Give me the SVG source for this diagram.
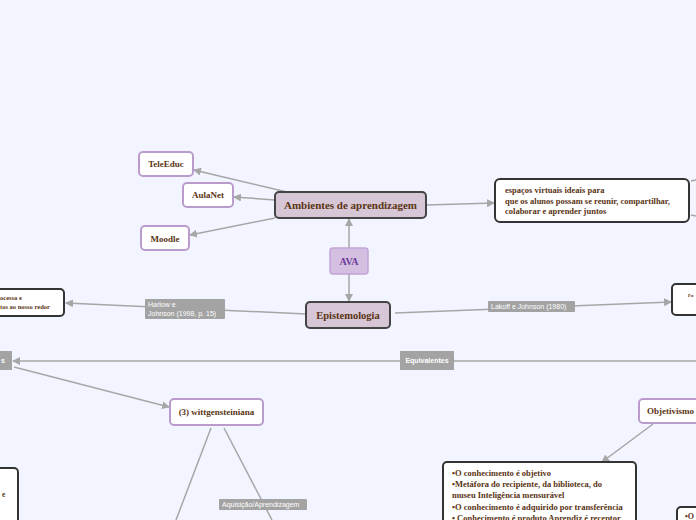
<svg xmlns="http://www.w3.org/2000/svg" width="696" height="520" viewBox="0 0 696 520">
<defs>
<marker id="ah" markerWidth="8" markerHeight="8" refX="7" refY="4" orient="auto" markerUnits="userSpaceOnUse">
<path d="M0,0 L8,4 L0,8 z" fill="#a6a6a6"/>
</marker>
<style>
.bg{fill:#f2f5ff}
.ln{stroke:#a6a6a6;stroke-width:1.5;fill:none}
.sub{fill:#ffffff;stroke:#b99ccc;stroke-width:2}
.main{fill:#d6c6d6;stroke:#444;stroke-width:2}
.note{fill:#ffffff;stroke:#333;stroke-width:2}
.t{font-family:"Liberation Serif",serif;font-weight:bold;fill:#5a3414}
.lab{fill:#a3a3a3}
.lt{font-family:"Liberation Sans",Arial,sans-serif;fill:#ffffff;font-size:7px}
</style>
</defs>
<rect class="bg" x="0" y="0" width="696" height="520"/>
<g id="connectors">
<line class="ln" x1="287" y1="192" x2="194" y2="170" marker-end="url(#ah)"/>
<line class="ln" x1="275" y1="200" x2="234" y2="197" marker-end="url(#ah)"/>
<line class="ln" x1="275" y1="218" x2="190" y2="235" marker-end="url(#ah)"/>
<line class="ln" x1="349" y1="248" x2="349" y2="219" marker-end="url(#ah)"/>
<line class="ln" x1="349" y1="274" x2="349" y2="301" marker-end="url(#ah)"/>
<line class="ln" x1="427" y1="205" x2="494" y2="203" marker-end="url(#ah)"/>
<line class="ln" x1="691" y1="181" x2="696" y2="180"/>
<line class="ln" x1="691" y1="215" x2="696" y2="216"/>
<line class="ln" x1="306" y1="314" x2="66" y2="303" marker-end="url(#ah)"/>
<line class="ln" x1="395" y1="313" x2="671" y2="302" marker-end="url(#ah)"/>
<line class="ln" x1="696" y1="361" x2="13" y2="361" marker-end="url(#ah)"/>
<line class="ln" x1="14" y1="367" x2="169" y2="407" marker-end="url(#ah)"/>
<line class="ln" x1="211" y1="428" x2="176" y2="520"/>
<line class="ln" x1="224" y1="428" x2="272" y2="520"/>
<line class="ln" x1="653" y1="424" x2="602" y2="462" marker-end="url(#ah)"/>
<rect class="lab" x="145" y="299" width="80" height="20" rx="1"/>
<text class="lt" x="148" y="307">Harlow e</text>
<text class="lt" x="148" y="316">Johnson (1998, p. 15)</text>
<rect class="lab" x="488" y="301" width="87" height="11" rx="1"/>
<text class="lt" x="491" y="309">Lakoff e Johnson (1980)</text>
<rect class="lab" x="0" y="351" width="12" height="19"/>
<text class="lt" x="1" y="363" font-size="6" font-weight="bold">s</text>
<rect class="lab" x="400" y="351" width="54" height="19"/>
<text class="lt" x="427" y="363" font-size="6" font-weight="bold" text-anchor="middle">Equivalentes</text>
<rect class="lab" x="219" y="499" width="88" height="11" rx="1"/>
<text class="lt" x="222" y="507">Aquisição/Aprendizagem</text>
</g>
<g id="teleeduc">
<rect class="sub" x="139" y="152" width="54" height="24" rx="4"/>
<text class="t" x="166" y="167" font-size="9" text-anchor="middle">TeleEduc</text>
</g>
<g id="aulanet">
<rect class="sub" x="183" y="183" width="50" height="24" rx="4"/>
<text class="t" x="208" y="198" font-size="9" text-anchor="middle">AulaNet</text>
</g>
<g id="moodle">
<rect class="sub" x="141" y="226" width="48" height="24" rx="4"/>
<text class="t" x="165" y="242" font-size="9" text-anchor="middle">Moodle</text>
</g>
<g id="ambientes">
<rect class="main" x="275" y="192" width="151" height="26" rx="4"/>
<text class="t" x="350.5" y="209" font-size="11" text-anchor="middle">Ambientes de aprendizagem</text>
</g>
<g id="ava">
<rect x="330" y="248" width="38" height="26" rx="3" fill="#d5bfe0" stroke="#c3a3d6" stroke-width="1.5"/>
<text x="349" y="265" font-size="10" text-anchor="middle" font-family="Liberation Serif,serif" font-weight="bold" fill="#6b3a9c">AVA</text>
</g>
<g id="espacos">
<rect class="note" x="495" y="179" width="194" height="43" rx="5"/>
<text class="t" font-size="8.5"><tspan x="505" y="193">espaços virtuais ideais para</tspan><tspan x="505" y="204">que os alunos possam se reunir, compartilhar,</tspan><tspan x="505" y="214">colaborar e aprender juntos</tspan></text>
</g>
<g id="epistemologia">
<rect class="main" x="306" y="302" width="84" height="26" rx="4"/>
<text class="t" x="348" y="319" font-size="10.5" text-anchor="middle">Epistemologia</text>
</g>
<g id="harlow-note">
<rect class="note" x="-10" y="289" width="74" height="27" rx="4"/>
<text class="t" font-size="6.5"><tspan x="0" y="300">ocessa e</tspan><tspan x="0" y="309">tos ao nosso redor</tspan></text>
</g>
<g id="lakoff-note">
<rect class="note" x="672" y="284" width="34" height="31" rx="4"/>
<text class="t" x="688" y="297" font-size="5">Fo</text>
</g>
<g id="wittgensteiniana">
<rect class="sub" x="170" y="399" width="93" height="26" rx="4"/>
<text class="t" x="216.5" y="415" font-size="9" text-anchor="middle">(3) wittgensteiniana</text>
</g>
<g id="left-note">
<rect class="note" x="-10" y="468" width="28" height="60" rx="4"/>
<text class="t" x="2" y="497" font-size="7.5">e</text>
</g>
<g id="objetivismo">
<rect class="sub" x="639" y="399" width="70" height="24" rx="4"/>
<text class="t" x="647" y="414" font-size="9">Objetivismo</text>
</g>
<g id="objetivismo-note">
<rect class="note" x="443" y="462" width="193" height="70" rx="4"/>
<text class="t" font-size="8.5"><tspan x="452" y="476">•O conhecimento é objetivo</tspan><tspan x="452" y="487">•Metáfora do recipiente, da biblioteca, do</tspan><tspan x="452" y="498">museu Inteligência mensurável</tspan><tspan x="452" y="510">•O conhecimento é adquirido por transferência</tspan><tspan x="452" y="521">• Conhecimento é produto Aprendiz é receptor</tspan></text>
</g>
<g id="right-note">
<rect class="note" x="677" y="507" width="30" height="30" rx="4"/>
<text class="t" x="685" y="519" font-size="8">•O</text>
</g>
</svg>
